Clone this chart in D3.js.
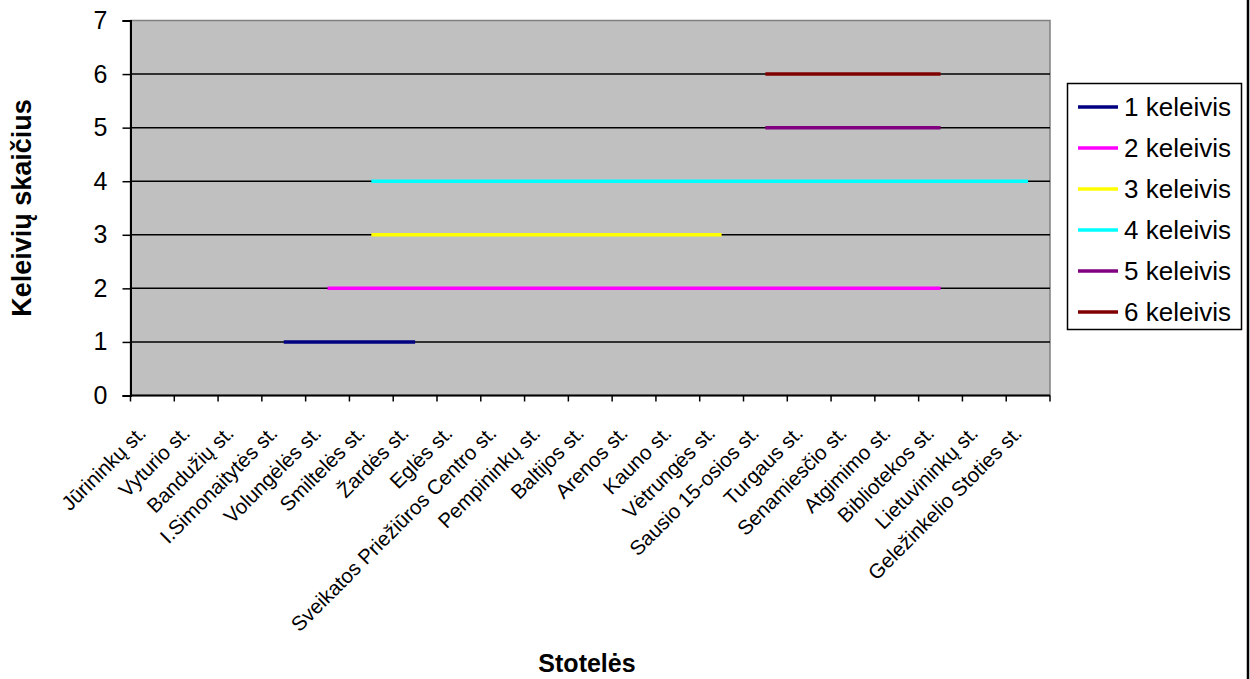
<!DOCTYPE html>
<html>
<head>
<meta charset="utf-8">
<script src="https://cdn.jsdelivr.net/npm/d3@7"></script>
<style>
  html, body { margin: 0; padding: 0; background: #fff; }
  svg { display: block; font-family: Arial, "Liberation Sans", sans-serif; }
</style>
</head>
<body>
<svg id="chart" width="1250" height="679"></svg>
<script>
const categories = ["Jūrininkų st.", "Vyturio st.", "Bandužių st.", "I.Simonaitytės st.", "Volungėlės st.", "Smiltelės st.", "Žardės st.", "Eglės st.", "Sveikatos Priežiūros Centro st.", "Pempininkų st.", "Baltijos st.", "Arenos st.", "Kauno st.", "Vėtrungės st.", "Sausio 15-osios st.", "Turgaus st.", "Senamiesčio st.", "Atgimimo st.", "Bibliotekos st.", "Lietuvininkų st.", "Geležinkelio Stoties st."];

const seriesNames = ["1 keleivis", "2 keleivis", "3 keleivis", "4 keleivis", "5 keleivis", "6 keleivis"];
const seriesColors = ["#000080", "#FF00FF", "#FFFF00", "#00FFFF", "#800080", "#800000"];

const s1 = [null, null, null, 1, 1, 1, 1, null, null, null, null, null, null, null, null, null, null, null, null, null, null];
const s2 = [null, null, null, null, 2, 2, 2, 2, 2, 2, 2, 2, 2, 2, 2, 2, 2, 2, 2, null, null];
const s3 = [null, null, null, null, null, 3, 3, 3, 3, 3, 3, 3, 3, 3, null, null, null, null, null, null, null];
const s4 = [null, null, null, null, null, 4, 4, 4, 4, 4, 4, 4, 4, 4, 4, 4, 4, 4, 4, 4, 4];
const s5 = [null, null, null, null, null, null, null, null, null, null, null, null, null, null, 5, 5, 5, 5, 5, null, null];
const s6 = [null, null, null, null, null, null, null, null, null, null, null, null, null, null, 6, 6, 6, 6, 6, null, null];
const seriesValues = [s1, s2, s3, s4, s5, s6];

const yTicks = [0, 1, 2, 3, 4, 5, 6, 7];
const yTitle = "Keleivių skaičius";
const xTitle = "Stotelės";

const svg = d3.select("#chart");
const L = 130.5, R = 1050, T = 20.5, B = 395.5;

const x = d3.scaleBand().domain(categories).range([L, R]).padding(0);
const y = d3.scaleLinear().domain([0, 7]).range([B, T]);
const xc = c => x(c) + x.bandwidth() / 2;

// plot area
svg.append("rect").attr("x", L).attr("y", T).attr("width", R - L).attr("height", B - T)
  .attr("fill", "#C0C0C0").attr("stroke", "#808080").attr("stroke-width", 1.5);

// gridlines
svg.append("g").selectAll("line").data(yTicks.filter(d => d > 0 && d < 7)).join("line")
  .attr("x1", L).attr("x2", R).attr("y1", d => y(d)).attr("y2", d => y(d))
  .attr("stroke", "#000").attr("stroke-width", 1.5);

// y axis
const yAxis = svg.append("g").attr("transform", `translate(${L},0)`)
  .call(d3.axisLeft(y).tickValues(yTicks).tickFormat(d3.format("d")).tickSize(8).tickPadding(15));
yAxis.select(".domain").attr("stroke", "#000").attr("stroke-width", 2);
yAxis.selectAll(".tick line").attr("stroke", "#000").attr("stroke-width", 1.5);
yAxis.selectAll(".tick text").attr("font-size", 25).attr("fill", "#000")
  .attr("font-family", "Arial, 'Liberation Sans', sans-serif");

// x axis
const xAxis = svg.append("g").attr("transform", `translate(0,${B})`)
  .call(d3.axisBottom(x).tickSize(0).tickPadding(0));
xAxis.select(".domain").remove();
xAxis.selectAll(".tick text")
  .attr("font-size", 20.5).attr("fill", "#000")
  .attr("font-family", "Arial, 'Liberation Sans', sans-serif")
  .attr("text-anchor", "end")
  .attr("dy", null)
  .attr("transform", "translate(-5,39) rotate(-45)");
svg.append("line").attr("x1", L).attr("x2", R).attr("y1", B).attr("y2", B)
  .attr("stroke", "#000").attr("stroke-width", 2);
const bounds = categories.map(c => x(c)).concat([x.range()[1]]);
svg.append("g").selectAll("line").data(bounds).join("line")
  .attr("x1", d => d).attr("x2", d => d).attr("y1", B).attr("y2", B + 6)
  .attr("stroke", "#000").attr("stroke-width", 1.5);

// series
const line = d3.line().defined(d => d.v !== null).x(d => xc(d.c)).y(d => y(d.v));
seriesValues.forEach((vals, i) => {
  const pts = categories.map((c, j) => ({ c, v: vals[j] }));
  svg.append("path").attr("d", line(pts)).attr("fill", "none")
    .attr("stroke", seriesColors[i]).attr("stroke-width", 3.5);
});

// axis titles
svg.append("text").attr("transform", "translate(31,208) rotate(-90)")
  .attr("text-anchor", "middle").attr("font-size", 27).attr("font-weight", "bold")
  .text(yTitle);
svg.append("text").attr("x", 587).attr("y", 672)
  .attr("text-anchor", "middle").attr("font-size", 25).attr("font-weight", "bold")
  .text(xTitle);

// legend
const lg = svg.append("g");
lg.append("rect").attr("x", 1067.5).attr("y", 83.5).attr("width", 174).attr("height", 246)
  .attr("fill", "#fff").attr("stroke", "#000").attr("stroke-width", 1.5);
seriesNames.forEach((n, i) => {
  const yy = 107 + i * 41;
  lg.append("line").attr("x1", 1078).attr("x2", 1118).attr("y1", yy).attr("y2", yy)
    .attr("stroke", seriesColors[i]).attr("stroke-width", 3.5);
  lg.append("text").attr("x", 1124).attr("y", yy + 9).attr("font-size", 26).text(n);
});

// outer chart border (right edge)
svg.append("line").attr("x1", 1248).attr("x2", 1248).attr("y1", 0).attr("y2", 679)
  .attr("stroke", "#000").attr("stroke-width", 2.5);
</script>
</body>
</html>
